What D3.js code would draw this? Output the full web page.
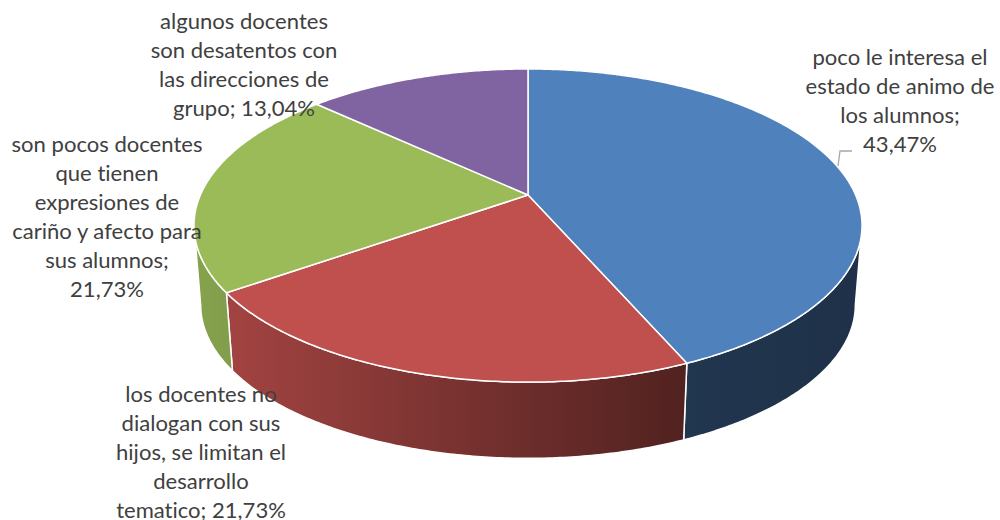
<!DOCTYPE html>
<html>
<head>
<meta charset="utf-8">
<script src="https://cdn.jsdelivr.net/npm/d3@7"></script>
<style>
  html, body { margin: 0; padding: 0; background: #ffffff; }
  svg { display: block; }
  text { font-family: Lato, "Open Sans", sans-serif; fill: #404040;
         font-variant-ligatures: none; font-feature-settings: "liga" 0, "clig" 0; }
</style>
</head>
<body>
<svg id="chart" width="1000" height="520"></svg>
<script>
// ---- data ----
const categories = [
  "poco le interesa el estado de animo de los alumnos",
  "los docentes no dialogan con sus hijos, se limitan el desarrollo tematico",
  "son pocos docentes que tienen expresiones de cariño y afecto para sus alumnos",
  "algunos docentes son desatentos con las direcciones de grupo"
];
const values = [43.47, 21.73, 21.73, 13.04];
const valueLabels = ["43,47%", "21,73%", "21,73%", "13,04%"];
const labelLines = [
  ["poco le interesa el", "estado de animo de", "los alumnos;", "43,47%"],
  ["los docentes no", "dialogan con sus", "hijos, se limitan el", "desarrollo", "tematico; 21,73%"],
  ["son pocos docentes", "que tienen", "expresiones de", "cariño y afecto para", "sus alumnos;", "21,73%"],
  ["algunos docentes", "son desatentos con", "las direcciones de", "grupo; 13,04%"]
];
const colors = ["#4F81BD", "#C0504D", "#9BBB59", "#8064A2"];

// ---- geometry / style ----
const svg = d3.select("#chart");
const cx = 528, cy = 195, rx = 327.6, ry = 150.6, k = 0.195;
const depth = 80, bottomScale = 0.98;
const labelPos = [[900, 65], [201, 402], [107, 152], [244, 29]];
const lineH = 29;

function proj(theta, bottom) {
  const u = Math.sin(theta), v = Math.cos(theta);
  const d = 1 + k * v;
  const s = bottom ? bottomScale : 1;
  return [cx + s * rx * u / d, cy + (bottom ? depth : 0) - s * ry * v / d];
}
function arcPts(a0, a1, bottom) {
  const n = Math.max(2, Math.ceil(Math.abs(a1 - a0) / 0.01));
  const pts = [];
  for (let i = 0; i <= n; i++) pts.push(proj(a0 + (a1 - a0) * i / n, bottom));
  return pts;
}

const pie = d3.pie().sort(null).value(d => d).startAngle(0).endAngle(2 * Math.PI);
const arcs = pie(values);

// extreme tangent angles
const thR = Math.acos(-k), thL = 2 * Math.PI - Math.acos(-k);

// gradients for side walls
const defs = svg.append("defs");
const shadeStops = [[193, 0.87], [233, 0.84], [528, 0.56], [685, 0.42], [862, 0.38]];
colors.forEach((c, i) => {
  const g = defs.append("linearGradient").attr("id", "side" + i)
    .attr("gradientUnits", "userSpaceOnUse")
    .attr("x1", 193).attr("x2", 862).attr("y1", 0).attr("y2", 0);
  const base = d3.rgb(c);
  shadeStops.forEach(([x, f]) => {
    g.append("stop").attr("offset", (x - 193) / 669)
      .attr("stop-color", d3.rgb(base.r * f, base.g * f, base.b * f).formatHex());
  });
});

const line = d3.line();

// side walls
const sides = svg.append("g");
arcs.forEach((a, i) => {
  const s0 = Math.max(a.startAngle, thR), s1 = Math.min(a.endAngle, thL);
  if (s1 <= s0) return;
  const top = arcPts(s0, s1, false);
  const bot = arcPts(s0, s1, true).reverse();
  sides.append("path")
    .attr("d", line(top.concat(bot)) + "Z")
    .attr("fill", `url(#side${i})`)
    .attr("stroke", "#ffffff").attr("stroke-width", 1.5).attr("stroke-linejoin", "round");
});

// top faces
const tops = svg.append("g");
arcs.forEach((a, i) => {
  const pts = [[cx, cy]].concat(arcPts(a.startAngle, a.endAngle, false));
  tops.append("path")
    .attr("d", line(pts) + "Z")
    .attr("fill", colors[i])
    .attr("stroke", "#ffffff").attr("stroke-width", 1.5).attr("stroke-linejoin", "round");
});

// leader line for first label
svg.append("path")
  .attr("d", line([[838, 166], [840, 151], [852, 151]]))
  .attr("fill", "none").attr("stroke", "#A6A6A6").attr("stroke-width", 1.3);

// font size fit (reference line width)
const probe = svg.append("text").attr("font-size", 100).text("son pocos docentes");
const w100 = probe.node().getComputedTextLength();
probe.remove();
const fs = 191 / w100 * 100;

const labels = svg.append("g");
labelLines.forEach((lines, i) => {
  const t = labels.append("text")
    .attr("text-anchor", "middle")
    .attr("font-size", fs)
    .attr("x", labelPos[i][0]).attr("y", labelPos[i][1]);
  lines.forEach((ln, j) => {
    t.append("tspan").attr("x", labelPos[i][0]).attr("y", labelPos[i][1] + j * lineH).text(ln);
  });
});
</script>
</body>
</html>
